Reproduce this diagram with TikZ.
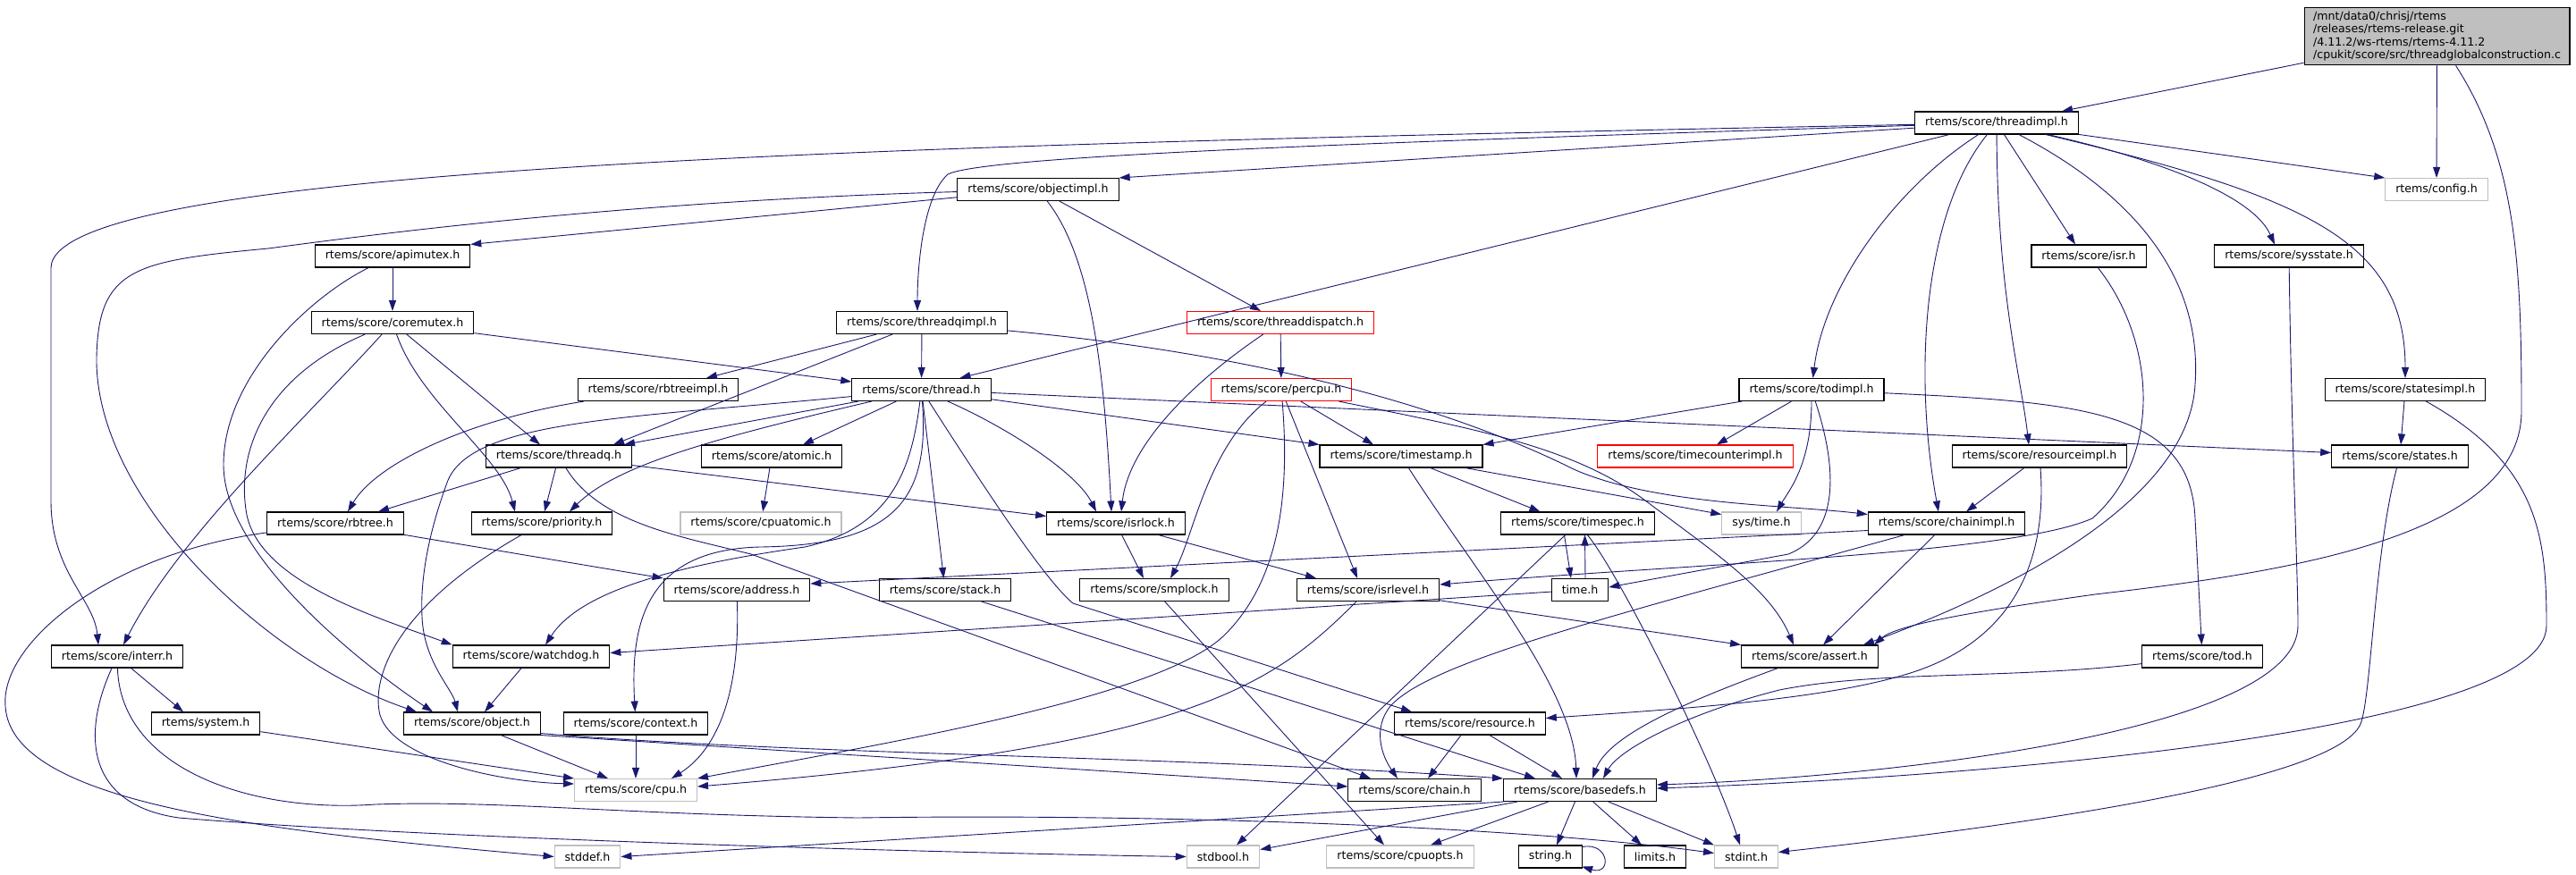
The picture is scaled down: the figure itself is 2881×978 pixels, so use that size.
\documentclass[tikz,border=0pt]{standalone}
\usepackage{fontspec}
\newfontfamily\dejavu{DejaVu Sans}
\usetikzlibrary{arrows.meta}
\definecolor{edgeblue}{HTML}{191970}
\definecolor{extgray}{HTML}{BFBFBF}
\definecolor{mainfill}{HTML}{BFBFBF}
\definecolor{redline}{HTML}{FF0000}
\tikzset{
  hfile/.style={draw=black, fill=white, line width=1.1pt, minimum height=25pt,
    inner xsep=11.5pt, inner ysep=0pt, font=\dejavu\fontsize{12.6}{14.5}\selectfont},
  extfile/.style={hfile, draw=extgray},
  redfile/.style={hfile, draw=redline},
  mainfile/.style={hfile, fill=mainfill, align=left, inner xsep=10pt, inner ysep=4.5pt},
  dep/.style={draw=edgeblue, line width=0.9pt, -{Triangle[length=12pt,width=8pt]}}
}

\begin{document}
\begin{tikzpicture}[x=1pt, y=-1pt]
  \useasboundingbox (0,0) rectangle (2881,978);

  % files, one row at a time
  \node[mainfile] (main) at (2725.5,40.5) {/mnt/data0/chrisj/rtems\\/releases/rtems-release.git\\/4.11.2/ws-rtems/rtems-4.11.2\\/cpukit/score/src/threadglobalconstruction.c};
  \node[hfile] (threadimpl) at (2233,137.5) {rtems/score/threadimpl.h};
  \node[extfile] (config) at (2725,212) {rtems/config.h};
  \node[hfile] (objectimpl) at (1161,212) {rtems/score/objectimpl.h};
  \node[hfile] (apimutex) at (439,286.5) {rtems/score/apimutex.h};
  \node[hfile] (isr) at (2336,286.5) {rtems/score/isr.h};
  \node[hfile] (sysstate) at (2560,286.5) {rtems/score/sysstate.h};
  \node[hfile] (coremutex) at (439,361) {rtems/score/coremutex.h};
  \node[hfile] (threadqimpl) at (1031,361) {rtems/score/threadqimpl.h};
  \node[redfile] (threaddispatch) at (1432,361) {rtems/score/threaddispatch.h};
  \node[hfile] (rbtreeimpl) at (736,436) {rtems/score/rbtreeimpl.h};
  \node[hfile] (thread) at (1030.5,436) {rtems/score/thread.h};
  \node[redfile] (percpu) at (1433,436) {rtems/score/percpu.h};
  \node[hfile] (todimpl) at (2026,436) {rtems/score/todimpl.h};
  \node[hfile] (statesimpl) at (2690,436) {rtems/score/statesimpl.h};
  \node[hfile] (threadq) at (625,510.5) {rtems/score/threadq.h};
  \node[hfile] (atomic) at (863,510.5) {rtems/score/atomic.h};
  \node[hfile] (timestamp) at (1567,510.5) {rtems/score/timestamp.h};
  \node[redfile] (timecounter) at (1896,510.5) {rtems/score/timecounterimpl.h};
  \node[hfile] (resourceimpl) at (2281,510.5) {rtems/score/resourceimpl.h};
  \node[hfile] (states) at (2684,510.5) {rtems/score/states.h};
  \node[hfile] (rbtree) at (375,585.5) {rtems/score/rbtree.h};
  \node[hfile] (priority) at (606,585.5) {rtems/score/priority.h};
  \node[extfile] (cpuatomic) at (851,585.5) {rtems/score/cpuatomic.h};
  \node[hfile] (isrlock) at (1248,585.5) {rtems/score/isrlock.h};
  \node[hfile] (timespec) at (1764.5,585.5) {rtems/score/timespec.h};
  \node[extfile] (systime) at (1970,585.5) {sys/time.h};
  \node[hfile] (chainimpl) at (2177,585.5) {rtems/score/chainimpl.h};
  \node[hfile] (address) at (824,660) {rtems/score/address.h};
  \node[hfile] (stack) at (1057,660) {rtems/score/stack.h};
  \node[hfile] (smplock) at (1291,660) {rtems/score/smplock.h};
  \node[hfile] (isrlevel) at (1530,660) {rtems/score/isrlevel.h};
  \node[hfile] (timeh) at (1767,660) {time.h};
  \node[hfile] (interr) at (131,734.5) {rtems/score/interr.h};
  \node[hfile] (watchdog) at (594,734.5) {rtems/score/watchdog.h};
  \node[hfile] (assert) at (2024,734.5) {rtems/score/assert.h};
  \node[hfile] (tod) at (2463,734.5) {rtems/score/tod.h};
  \node[hfile] (system) at (230,809.5) {rtems/system.h};
  \node[hfile] (object) at (528,809.5) {rtems/score/object.h};
  \node[hfile] (context) at (711,809.5) {rtems/score/context.h};
  \node[hfile] (resource) at (1644,809.5) {rtems/score/resource.h};
  \node[extfile] (cpu) at (711,884) {rtems/score/cpu.h};
  \node[hfile] (chain) at (1582,884) {rtems/score/chain.h};
  \node[hfile] (basedefs) at (1767,884) {rtems/score/basedefs.h};
  \node[extfile] (stddef) at (657,958.5) {stddef.h};
  \node[extfile] (stdbool) at (1368,958.5) {stdbool.h};
  \node[extfile] (cpuopts) at (1566,958.5) {rtems/score/cpuopts.h};
  \node[hfile] (stringh) at (1734,958.5) {string.h};
  \node[hfile] (limits) at (1851,958.5) {limits.h};
  \node[extfile] (stdint) at (1953,958.5) {stdint.h};

  % includes of the source file
  \draw[dep] (main) -- ([xshift=73pt]threadimpl.north);
  \draw[dep] (main) -- (config);
  \draw[dep] (main) .. controls (2815,180) and (2820,300) .. (2820,460) .. controls (2820,600) and (2560,640) .. (2343,665) .. controls (2200,685) and (2120,700) .. ([xshift=72pt]assert.north);

  % threadimpl.h
  \draw[dep] (threadimpl) .. controls (1000,162) and (57,185) .. (57,300) -- (57,560) .. controls (57,640) and (105,670) .. ([xshift=-21pt]interr.north);
  \draw[dep] (threadimpl) -- (objectimpl.north east);
  \draw[dep] (threadimpl) .. controls (1500,160) and (1100,175) .. (1060,195) .. controls (1032,220) and (1026,300) .. ([xshift=-5pt]threadqimpl.north);
  \draw[dep] (threadimpl) -- ([xshift=43pt]thread.north);
  \draw[dep] (threadimpl) .. controls (2120,210) and (2040,320) .. (todimpl);
  \draw[dep] (threadimpl) .. controls (2150,240) and (2140,420) .. ([xshift=-9pt]chainimpl.north);
  \draw[dep] (threadimpl) .. controls (2234,330) and (2260,420) .. ([xshift=-12pt]resourceimpl.north);
  \draw[dep] (threadimpl) -- ([xshift=-15pt]isr.north);
  \draw[dep] (threadimpl) .. controls (2410,230) and (2462,330) .. (2455,430) .. controls (2448,560) and (2250,660) .. ([xshift=60pt]assert.north);
  \draw[dep] (threadimpl) -- (config.north west);
  \draw[dep] (threadimpl) .. controls (2420,180) and (2520,220) .. ([xshift=-16pt]sysstate.north);
  \draw[dep] (threadimpl) .. controls (2580,220) and (2690,270) .. (statesimpl);

  % objectimpl.h, apimutex.h, coremutex.h
  \draw[dep] (objectimpl) -- (apimutex.north east);
  \draw[dep] (objectimpl) .. controls (700,225) and (420,262) .. (300,278) .. controls (150,292) and (110,300) .. (108,400) .. controls (106,560) and (300,740) .. ([xshift=-62pt]object.north);
  \draw[dep] (objectimpl) .. controls (1222,290) and (1235,420) .. ([xshift=-5pt]isrlock.north);
  \draw[dep] (objectimpl) -- ([xshift=-22pt]threaddispatch.north);
  \draw[dep] (apimutex) -- (coremutex);
  \draw[dep] (apimutex) .. controls (350,330) and (250,420) .. (250,520) .. controls (250,620) and (400,740) .. ([xshift=-44pt]object.north);
  \draw[dep] (coremutex) -- ([yshift=9pt]thread.west);
  \draw[dep] (coremutex) -- ([xshift=-21pt]threadq.north);
  \draw[dep] (coremutex) .. controls (470,450) and (560,510) .. ([xshift=-30pt]priority.north);
  \draw[dep] (coremutex) .. controls (300,420) and (265,500) .. (275,570) .. controls (285,650) and (420,690) .. (watchdog.north west);
  \draw[dep] (coremutex) .. controls (340,470) and (200,600) .. ([xshift=7pt]interr.north);

  % threadqimpl.h, threaddispatch.h
  \draw[dep] (threadqimpl) -- (thread);
  \draw[dep] (threadqimpl) -- ([xshift=54pt]rbtreeimpl.north);
  \draw[dep] (threadqimpl) -- ([xshift=61pt]threadq.north);
  \draw[dep] (threadqimpl) .. controls (1450,400) and (1650,470) .. (1760,525) .. controls (1850,565) and (2000,565) .. ([yshift=10pt]chainimpl.west);
  \draw[dep] (threaddispatch) -- (percpu);
  \draw[dep] (threaddispatch) .. controls (1330,430) and (1262,500) .. ([xshift=6pt]isrlock.north);

  % thread.h
  \draw[dep] (thread) -- ([xshift=73pt]threadq.north);
  \draw[dep] (thread) .. controls (700,468) and (525,470) .. (500,540) .. controls (478,600) and (470,650) .. (472,690) .. controls (474,740) and (505,770) .. ([xshift=-16pt]object.north);
  \draw[dep] (thread) .. controls (800,490) and (690,520) .. ([xshift=31pt]priority.north);
  \draw[dep] (thread) -- ([xshift=35pt]atomic.north);
  \draw[dep] (thread) .. controls (1020,520) and (1000,590) .. (900,612) .. controls (760,632) and (650,660) .. ([xshift=16pt]watchdog.north);
  \draw[dep] (thread) .. controls (1040,560) and (1000,610) .. (850,612) .. controls (720,615) and (705,700) .. (context);
  \draw[dep] (thread) -- (stack);
  \draw[dep] (thread) .. controls (1110,560) and (1170,650) .. (1200,675) -- ([xshift=-65pt]resource.north);
  \draw[dep] (thread) .. controls (1130,480) and (1205,530) .. ([xshift=-22pt]isrlock.north);
  \draw[dep] (thread) -- (timestamp.north west);
  \draw[dep] (thread) -- ([yshift=4pt]states.west);

  % percpu.h
  \draw[dep] (percpu) -- ([xshift=-31pt]timestamp.north);
  \draw[dep] (percpu) .. controls (1350,500) and (1335,600) .. ([xshift=18pt]smplock.north);
  \draw[dep] (percpu) -- ([xshift=-12pt]isrlevel.north);
  \draw[dep] (percpu) .. controls (1445,580) and (1420,660) .. (1370,710) .. controls (1300,780) and (1000,830) .. (cpu.north east);
  \draw[dep] (percpu) .. controls (1650,480) and (1760,500) .. (1840,560) .. controls (1920,620) and (1980,660) .. ([xshift=-18pt]assert.north);

  % rbtreeimpl.h, threadq.h, atomic.h, rbtree.h, priority.h
  \draw[dep] (rbtreeimpl) .. controls (520,470) and (420,520) .. ([xshift=14pt]rbtree.north);
  \draw[dep] (threadq) -- ([xshift=48pt]rbtree.north);
  \draw[dep] (threadq) -- ([xshift=3pt]priority.north);
  \draw[dep] (threadq) -- ([yshift=8pt]isrlock.west);
  \draw[dep] (threadq) .. controls (670,585) and (760,600) .. (840,620) -- ([xshift=-49pt]chain.north);
  \draw[dep] (atomic) -- (cpuatomic);
  \draw[dep] (rbtree) -- (address.north west);
  \draw[dep] (rbtree) .. controls (120,620) and (0,720) .. (6,790) .. controls (12,900) and (300,930) .. (stddef.west);
  \draw[dep] (priority) .. controls (440,680) and (415,760) .. (425,800) .. controls (440,850) and (560,875) .. ([yshift=7pt]cpu.west);

  % todimpl.h, timestamp.h, timespec.h, time.h
  \draw[dep] (todimpl) -- (timestamp.north east);
  \draw[dep] (todimpl) -- ([xshift=24pt]timecounter.north);
  \draw[dep] (todimpl) .. controls (2026,520) and (2000,550) .. ([xshift=17pt]systime.north);
  \draw[dep] (todimpl) .. controls (2060,540) and (2050,600) .. (2000,620) -- ([yshift=3pt]timeh.east);
  \draw[dep] (todimpl) .. controls (2330,450) and (2450,460) .. (2455,580) -- (tod);
  \draw[dep] (timestamp) -- ([xshift=-42pt]timespec.north);
  \draw[dep] (timestamp) -- ([yshift=10pt]systime.west);
  \draw[dep] (timestamp) .. controls (1650,640) and (1760,770) .. ([xshift=-4pt]basedefs.north);
  \draw[dep] ([xshift=-15pt]timespec.south) -- ([xshift=-10pt]timeh.north);
  \draw[dep] ([xshift=6pt]timeh.north) -- ([xshift=8pt]timespec.south);
  \draw[dep] (timespec) -- ([xshift=15pt]stdbool.north);
  \draw[dep] (timespec) .. controls (1810,640) and (1915,850) .. ([xshift=-7pt]stdint.north);
  \draw[dep] (timeh) -- ([yshift=4pt]watchdog.east);

  % isrlock.h, smplock.h, isrlevel.h
  \draw[dep] (isrlock) -- ([xshift=-12pt]smplock.north);
  \draw[dep] (isrlock) -- ([xshift=-58pt]isrlevel.north);
  \draw[dep] (smplock) -- ([xshift=-18pt]cpuopts.north);
  \draw[dep] (isrlevel) -- (assert.north west);
  \draw[dep] (isrlevel) .. controls (1420,770) and (1330,835) .. ([yshift=4pt]cpu.east);

  % chainimpl.h, resourceimpl.h, isr.h
  \draw[dep] ([yshift=-8pt]chainimpl.west) -- ([yshift=7pt]address.east);
  \draw[dep] (chainimpl) .. controls (1800,690) and (1600,740) .. (1555,790) .. controls (1535,815) and (1545,845) .. ([xshift=-19pt]chain.north);
  \draw[dep] (chainimpl) -- ([xshift=15pt]assert.north);
  \draw[dep] (resourceimpl) -- ([xshift=22pt]chainimpl.north);
  \draw[dep] (resourceimpl) .. controls (2290,630) and (2250,720) .. (2130,755) .. controls (2030,785) and (1850,795) .. ([yshift=6pt]resource.east);
  \draw[dep] (isr) .. controls (2410,380) and (2420,510) .. (2340,580) .. controls (2250,620) and (1900,630) .. ([yshift=6pt]isrlevel.east);

  % sysstate.h, statesimpl.h, states.h
  \draw[dep] (sysstate) .. controls (2563,500) and (2570,640) .. (2570,700) .. controls (2570,820) and (2100,870) .. ([yshift=6pt]basedefs.east);
  \draw[dep] (statesimpl) -- (states);
  \draw[dep] (statesimpl) .. controls (2840,520) and (2848,600) .. (2848,700) .. controls (2848,820) and (2200,870) .. ([yshift=2pt]basedefs.east);
  \draw[dep] (states) .. controls (2655,620) and (2652,780) .. (2640,810) .. controls (2610,880) and (2200,930) .. ([yshift=5pt]stdint.east);

  % interr.h, watchdog.h, system.h, object.h, context.h, address.h
  \draw[dep] (interr) -- ([xshift=-25pt]system.north);
  \draw[dep] (interr) .. controls (92,820) and (95,900) .. (200,915) .. controls (500,940) and (1100,955) .. (stdbool.west);
  \draw[dep] (interr) .. controls (135,860) and (280,910) .. (420,900) .. controls (560,895) and (700,912) .. (960,915) .. controls (1300,910) and (1700,925) .. ([yshift=4pt]stdint.west);
  \draw[dep] (watchdog) -- ([xshift=14pt]object.north);
  \draw[dep] (system) -- (cpu.north west);
  \draw[dep] (object) -- ([xshift=-31pt]cpu.north);
  \draw[dep] (object.south east) -- ([yshift=4pt]chain.west);
  \draw[dep] ([yshift=2pt]object.south east) .. controls (900,845) and (1300,845) .. (basedefs.north west);
  \draw[dep] (context) -- (cpu);
  \draw[dep] (address) .. controls (828,780) and (800,840) .. ([xshift=40pt]cpu.north);

  % stack.h, resource.h, assert.h, tod.h
  \draw[dep] (stack) -- ([xshift=-50pt]basedefs.north);
  \draw[dep] (resource) -- ([xshift=15pt]chain.north);
  \draw[dep] (resource) -- ([xshift=-20pt]basedefs.north);
  \draw[dep] (assert) .. controls (1900,780) and (1800,820) .. ([xshift=14pt]basedefs.north);
  \draw[dep] (tod) .. controls (2250,760) and (2100,750) .. (1990,772) .. controls (1880,800) and (1810,840) .. ([xshift=26pt]basedefs.north);

  % basedefs.h
  \draw[dep] (basedefs.south west) -- (stddef.east);
  \draw[dep] (basedefs) -- ([yshift=8pt]stdbool.east);
  \draw[dep] (basedefs) -- ([xshift=34pt]cpuopts.north);
  \draw[dep] (basedefs) -- ([xshift=7pt]stringh.north);
  \draw[dep] (basedefs) -- ([xshift=-15pt]limits.north);
  \draw[dep] (basedefs) -- (stdint.north west);
  \draw[dep] ([yshift=-2pt]stringh.north east) .. controls (1800,942) and (1803,980) .. ([xshift=-1pt,yshift=2pt]stringh.south east);
\end{tikzpicture}
\end{document}
